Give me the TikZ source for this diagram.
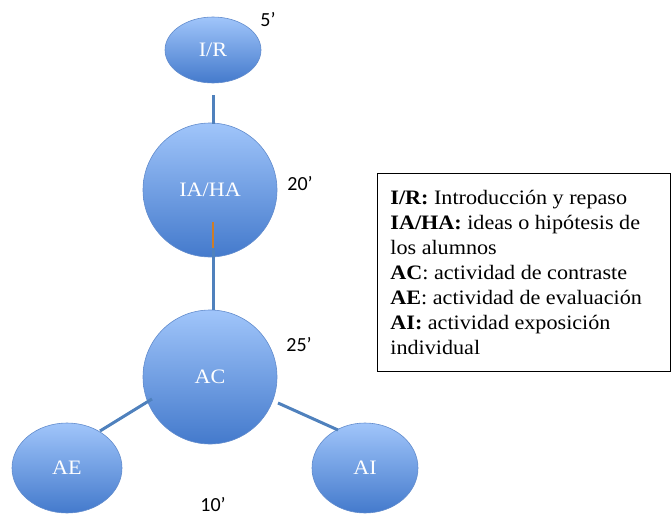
\documentclass[tikz,border=0pt]{standalone}
\usepackage{fontspec}
\setmainfont{Liberation Serif}[FakeStretch=1.08]
\newfontfamily\numfont{Carlito}
\usetikzlibrary{shapes.geometric}
\definecolor{topblue}{RGB}{160,197,250}
\definecolor{botblue}{RGB}{68,122,204}
\definecolor{edgeblue}{RGB}{98,140,205}
\definecolor{linkblue}{RGB}{79,129,189}
\definecolor{tickorange}{RGB}{205,125,40}
\tikzset{
  bubble/.style={ellipse, draw=edgeblue, line width=0.6pt, top color=topblue, bottom color=botblue,
    text=white, font=\fontsize{20.5}{22}\selectfont, inner sep=0pt},
  link/.style={draw=linkblue, line width=3pt},
  timelabel/.style={font=\numfont\fontsize{20}{22}\selectfont, inner sep=0pt},
}
\begin{document}
\begin{tikzpicture}[x=1pt,y=-1pt]
\useasboundingbox (0,0) rectangle (671,519);
\node[bubble, minimum width=96pt, minimum height=66pt] (ir) at (213,50) {I/R};
\node[bubble, minimum width=134pt, minimum height=134pt] (iaha) at (210,190) {IA/HA};
\node[bubble, minimum width=134pt, minimum height=134pt] (ac) at (210,377) {AC};
\node[bubble, minimum width=110pt, minimum height=90pt] (ae) at (67,468) {AE};
\node[bubble, minimum width=106pt, minimum height=90pt] (ai) at (365,468) {AI};
\coordinate (c1) at (213,95);
\coordinate (c2) at (213,124);
\coordinate (c3) at (213,248);
\coordinate (c4) at (213,310);
\coordinate (c5) at (213,222);
\draw[link] (c1) -- (c2);
\draw[link] (c3) -- (c4);
\draw[draw=tickorange, line width=1.5pt] (c5) -- (c3);
\coordinate (e1) at (100,431);
\coordinate (e2) at (152,399);
\coordinate (f1) at (278,403);
\coordinate (f2) at (338,430);
\draw[link] (e1) -- (e2);
\draw[link] (f1) -- (f2);
\node[timelabel] (t1) at (268,20) {5’};
\node[timelabel] (t2) at (300,184) {20’};
\node[timelabel] (t3) at (299,345) {25’};
\node[timelabel] (t4) at (213,505) {10’};
\node[draw=black, line width=0.8pt, rectangle, text width=267pt, inner xsep=13pt, inner ysep=0pt,
  minimum height=198pt, align=flush left, font=\fontsize{20.5}{25}\selectfont, anchor=north west] (legend) at (377,173)
  {\textbf{I/R:} Introducción y repaso\\
   \textbf{IA/HA:} ideas o hipótesis de\\
   los alumnos\\
   \textbf{AC}: actividad de contraste\\
   \textbf{AE}: actividad de evaluación\\
   \textbf{AI:} actividad exposición\\
   individual};
\end{tikzpicture}
\end{document}
